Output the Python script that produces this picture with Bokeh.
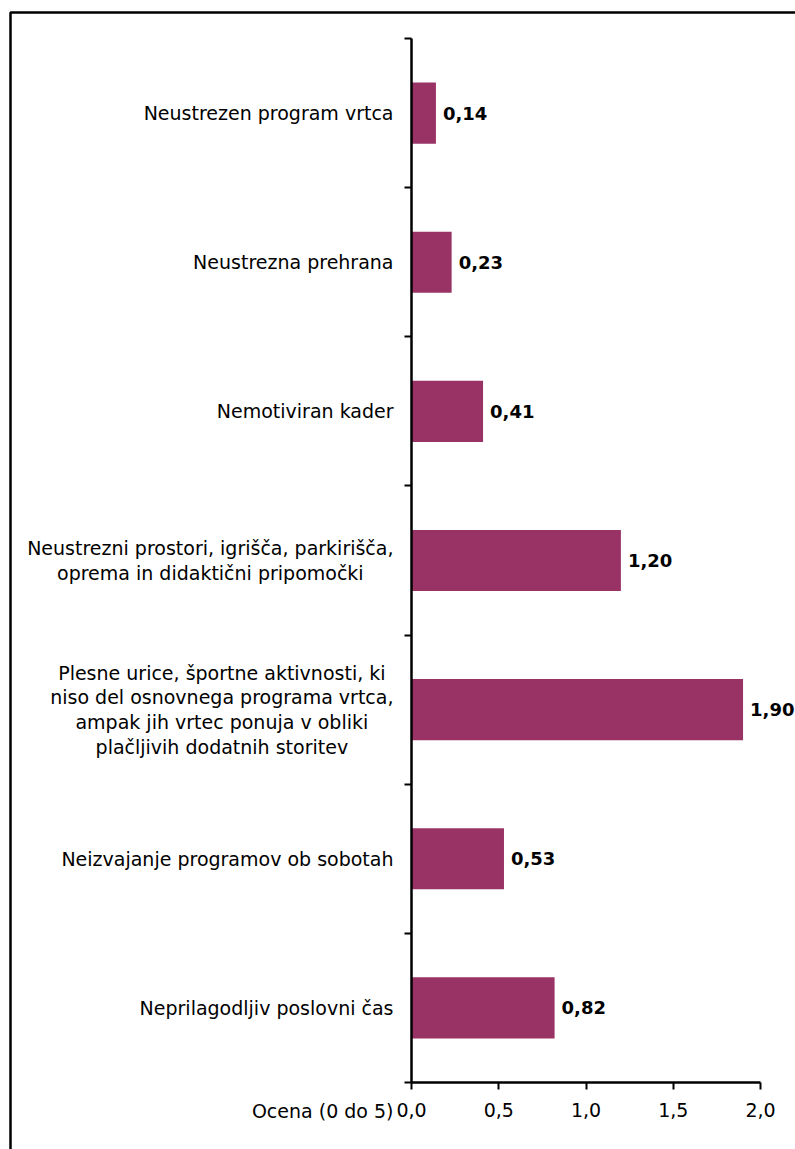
from bokeh.plotting import figure
from bokeh.models import FixedTicker, Range1d, Label, BoxAnnotation, LabelSet, ColumnDataSource
from bokeh.core.properties import value
from bokeh.embed import file_html
from bokeh.resources import INLINE

categories = [
    "Neustrezen program vrtca",
    "Neustrezna prehrana",
    "Nemotiviran kader",
    "Neustrezni prostori, igrišča, parkirišča,\noprema in didaktični pripomočki",
    "Plesne urice, športne aktivnosti, ki\nniso del osnovnega programa vrtca,\nampak jih vrtec ponuja v obliki\nplačljivih dodatnih storitev",
    "Neizvajanje programov ob sobotah",
    "Neprilagodljiv poslovni čas",
]
values = [0.14, 0.23, 0.41, 1.20, 1.90, 0.53, 0.82]
x_ticks = [0.0, 0.5, 1.0, 1.5, 2.0]
x_tick_labels = ["0,0", "0,5", "1,0", "1,5", "2,0"]
axis_title = "Ocena (0 do 5)"

FONT = "DejaVu Sans"
BAR = "#993366"
W, H = 795, 1149
# plot-area placement inside the canvas (pixels)
LEFT, RIGHT, TOP, BOTTOM = 411, 760, 38, 1082

n = len(categories)
centers = [n - i - 0.5 for i in range(n)]
value_labels = [f"{v:.2f}".replace(".", ",") for v in values]

xmax = x_ticks[-1]
xs = (RIGHT - LEFT) / xmax
ys = (BOTTOM - TOP) / n
x_range = Range1d(-LEFT / xs, xmax + (W - RIGHT) / xs)
y_range = Range1d(-(H - BOTTOM) / ys, n + TOP / ys)

src = ColumnDataSource(dict(y=centers, v=values, lbl=value_labels,
                            cat=categories, x0=[0.0] * n))

p = figure(width=W, height=H, output_backend="svg", toolbar_location=None,
           x_range=x_range, y_range=y_range,
           min_border_left=0, min_border_right=0, min_border_top=0, min_border_bottom=0)
p.outline_line_color = None
p.xgrid.grid_line_color = None
p.ygrid.grid_line_color = None
p.background_fill_color = "white"
p.border_fill_color = "white"

p.hbar(y="y", right="v", left=0, height=0.41, color=BAR, line_color=None, source=src)

p.add_layout(LabelSet(x="v", y="y", text="lbl", source=src, x_offset=7,
                      text_baseline="middle", text_align="left",
                      text_font=value(FONT), text_font_size="18px",
                      text_font_style="bold", text_color="black"))

# category labels: block right-aligned at the axis, lines centred
p.text(x="x0", y="y", text="cat", source=src, x_offset=-18,
       anchor="center_right", text_align="center", text_baseline="middle",
       text_font=value(FONT), text_font_size="19px", text_color="black",
       text_line_height=1.12)

# y axis: ticks at category boundaries, no labels
ya = p.yaxis[0]
ya.fixed_location = 0
ya.bounds = (0, n)
ya.ticker = FixedTicker(ticks=list(range(n + 1)), minor_ticks=[])
ya.major_label_overrides = {i: "" for i in range(n + 1)}
ya.major_tick_out = 7
ya.major_tick_in = 0
ya.major_tick_line_width = 2
ya.major_tick_line_color = "black"
ya.minor_tick_out = 0
ya.minor_tick_in = 0
ya.axis_line_width = 2.5
ya.axis_line_color = "black"

xa = p.xaxis[0]
xa.fixed_location = 0
xa.bounds = (0, xmax)
xa.ticker = FixedTicker(ticks=x_ticks, minor_ticks=[])
xa.major_label_overrides = {t: l for t, l in zip(x_ticks, x_tick_labels)}
xa.major_tick_out = 7
xa.major_tick_in = 0
xa.major_tick_line_width = 2
xa.major_tick_line_color = "black"
xa.minor_tick_out = 0
xa.minor_tick_in = 0
xa.axis_line_width = 2.5
xa.axis_line_color = "black"
xa.major_label_standoff = 13
xa.major_label_text_font = FONT
xa.major_label_text_font_size = "19px"
xa.major_label_text_color = "black"

p.add_layout(Label(x=0, y=-28 / ys, text=axis_title, x_offset=-18,
                   text_align="right", text_baseline="middle",
                   text_font=FONT, text_font_size="19px", text_color="black"))

p.add_layout(BoxAnnotation(left=10, right=5000, top=12, bottom=5000,
                           left_units="canvas", right_units="canvas",
                           top_units="canvas", bottom_units="canvas",
                           fill_alpha=0, line_color="black", line_alpha=1.0,
                           line_width=2.5))

open("out.html", "w").write(file_html(p, INLINE))
